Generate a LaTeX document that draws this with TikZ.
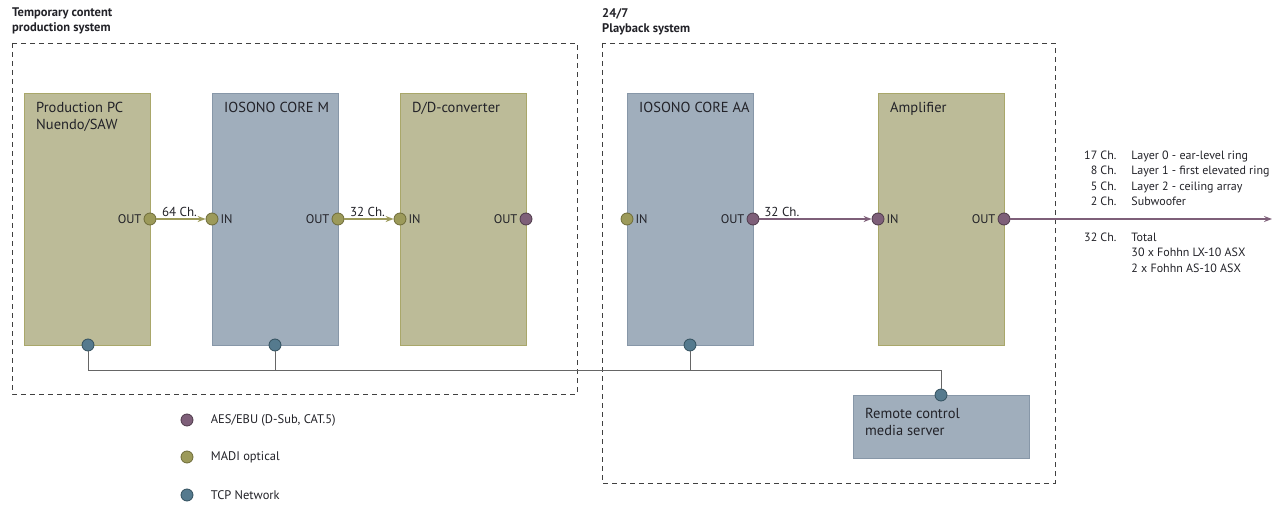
\documentclass[tikz,border=0pt]{standalone}
\usepackage{fontspec}
\setmainfont{PT Sans}
\usetikzlibrary{arrows.meta}
\definecolor{madi}{HTML}{9C9A5A}
\definecolor{madidark}{HTML}{6E6C3A}
\definecolor{aes}{HTML}{7E5F79}
\definecolor{aesdark}{HTML}{4E3A4A}
\definecolor{tcp}{HTML}{557A8E}
\definecolor{tcpdark}{HTML}{33505E}
\definecolor{olivebox}{HTML}{BCBB98}
\definecolor{oliveedge}{HTML}{A9A76A}
\definecolor{bluebox}{HTML}{A0AEBC}
\definecolor{blueedge}{HTML}{8797A8}
\definecolor{txt}{HTML}{222228}
\begin{document}
\begin{tikzpicture}[x=1pt, y=-1pt, every node/.style={text=txt},
  system/.style={draw=black!75, dashed, dash pattern=on 5pt off 4pt},
  title/.style={anchor=north west, align=left, inner sep=0pt, font=\bfseries\fontsize{12.5}{15}\selectfont},
  device/.style={anchor=north west, inner sep=0pt, minimum width=126pt, minimum height=252pt},
  olivedev/.style={device, fill=olivebox, draw=oliveedge},
  bluedev/.style={device, fill=bluebox, draw=blueedge},
  devname/.style={label={[anchor=north west, align=left, inner sep=0pt, xshift=12pt, yshift=-9pt, font=\fontsize{14.5}{17}\selectfont]north west:#1}},
  port/.style={circle, inner sep=0pt, minimum size=12pt, line width=0.8pt},
  madiport/.style={port, fill=madi, draw=madidark},
  aesport/.style={port, fill=aes, draw=aesdark},
  tcpport/.style={port, fill=tcp, draw=tcpdark},
  portin/.style={label={[font=\fontsize{12.5}{14}\selectfont, inner sep=2pt]right:IN}},
  portout/.style={label={[font=\fontsize{12.5}{14}\selectfont, inner sep=2pt]left:OUT}},
  madiline/.style={draw=madi, line width=1.5pt, -{Stealth[length=8pt, width=6pt]}},
  aesline/.style={draw=aes, line width=1.5pt, -{Stealth[length=8pt, width=6pt]}},
  tcpline/.style={draw=black!60, line width=0.8pt},
  chan/.style={font=\fontsize{13}{15}\selectfont, above, inner sep=2pt},
  small/.style={font=\fontsize{12.5}{15.5}\selectfont},
  listtext/.style={font=\fontsize{12}{15.5}\selectfont, anchor=north west, inner sep=0pt}]
  \useasboundingbox (0,0) rectangle (1282,505);

  % the two systems
  \draw[system] (12,43) rectangle (577,394);
  \draw[system] (602,43) rectangle (1055,483);
  \node[title] (prodtitle) at (12,8) {Temporary content\\production system};
  \node[title] (playtitle) at (602,8) {24/7\\Playback system};

  % devices
  \node[olivedev, devname={Production PC\\Nuendo/SAW}] (pc) at (24,93) {};
  \node[bluedev, devname={IOSONO CORE M}] (corem) at (212,93) {};
  \node[olivedev, devname={D/D-converter}] (dd) at (400,93) {};
  \node[bluedev, devname={IOSONO CORE AA}] (coreaa) at (627,93) {};
  \node[olivedev, devname={Amplifier}] (amp) at (878,93) {};
  \node[bluedev, minimum width=176pt, minimum height=63pt,
    label={[anchor=north west, align=left, inner sep=0pt, xshift=12pt, yshift=-13pt, font=\fontsize{14.5}{17}\selectfont]north west:Remote control\\media server}] (remote) at (853,395) {};

  % audio ports
  \node[madiport, portout] (pc-out) at (150,219) {};
  \node[madiport, portin] (corem-in) at (212,219) {};
  \node[madiport, portout] (corem-out) at (338,219) {};
  \node[madiport, portin] (dd-in) at (400,219) {};
  \node[aesport, portout] (dd-out) at (526,219) {};
  \node[madiport, portin] (coreaa-in) at (627,219) {};
  \node[aesport, portout] (coreaa-out) at (753,219) {};
  \node[aesport, portin] (amp-in) at (878,219) {};
  \node[aesport, portout] (amp-out) at (1004,219) {};
  \coordinate (speakers) at (1272,219);

  \draw[madiline] (pc-out) -- node[chan, pos=0.47] {64 Ch.} (corem-in);
  \draw[madiline] (corem-out) -- node[chan, pos=0.47] {32 Ch.} (dd-in);
  \draw[aesline] (coreaa-out) -- node[chan, pos=0.2] {32 Ch.} (amp-in);
  \draw[aesline] (amp-out) -- (speakers);

  % network
  \node[tcpport] (pc-net) at (88,345) {};
  \node[tcpport] (corem-net) at (275,345) {};
  \node[tcpport] (coreaa-net) at (690,345) {};
  \node[tcpport] (remote-net) at (941,395) {};
  \draw[tcpline] (pc-net.south) -- (pc-net |- 0,370) -| (remote-net.north);
  \draw[tcpline] (corem-net.south) -- (corem-net |- 0,370);
  \draw[tcpline] (coreaa-net.south) -- (coreaa-net |- 0,370);

  % channel list
  \node[listtext] (chlist) at (1084,148) {%
    \begin{tabular}{@{}r@{\hspace{15pt}}l@{}}
      17 Ch. & Layer 0 - ear-level ring\\
      8 Ch. & Layer 1 - first elevated ring\\
      5 Ch. & Layer 2 - ceiling array\\
      2 Ch. & Subwoofer
    \end{tabular}};
  \node[listtext] (chtotal) at (1084,230) {%
    \begin{tabular}{@{}r@{\hspace{15pt}}l@{}}
      32 Ch. & Total\\
      & 30 x Fohhn LX-10 ASX\\
      & 2 x Fohhn AS-10 ASX
    \end{tabular}};

  % legend
  \node[aesport, label={[small, xshift=14pt]right:AES/EBU (D-Sub, CAT.5)}] (key-aes) at (187,420) {};
  \node[madiport, label={[small, xshift=14pt]right:MADI optical}] (key-madi) at (187,457) {};
  \node[tcpport, label={[small, xshift=14pt]right:TCP Network}] (key-tcp) at (187,495) {};
\end{tikzpicture}
\end{document}
